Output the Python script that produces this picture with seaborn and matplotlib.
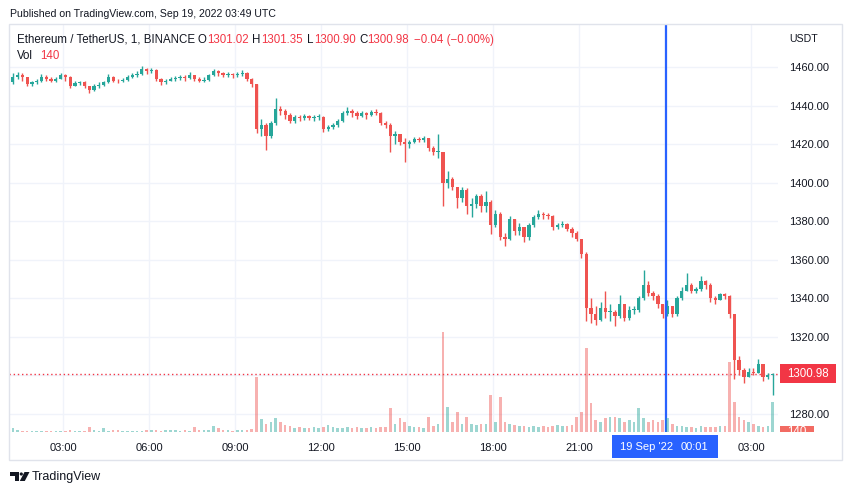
import numpy as np
import pandas as pd
import matplotlib
matplotlib.use('Agg')
import matplotlib.pyplot as plt
import matplotlib.patches as mpatches
import seaborn as sns

# ETH/USDT (Binance), read off the chart as 10-minute bars,
# 18 Sep 2022 01:10 UTC -> 19 Sep 2022 03:40 UTC
first_open = 1452
close = [
    1455, 1456, 1455, 1451, 1452, 1453, 1455, 1454, 1453, 1454, 1456,
    1455, 1450, 1451.5, 1452, 1450, 1448, 1450, 1450.5, 1452, 1455,
    1453, 1452.5, 1453.5, 1455, 1456, 1456.5, 1459, 1458, 1458.5, 1454,
    1452, 1453, 1454, 1454.5, 1455, 1454.5, 1456, 1454, 1453, 1453.5,
    1456, 1458, 1457, 1456, 1456.5, 1456, 1456.5, 1457, 1454, 1451,
    1428, 1430, 1424, 1431, 1438, 1437, 1435, 1432, 1434, 1433.5,
    1434.5, 1433.5, 1434, 1434, 1428, 1429, 1430, 1432, 1436, 1437,
    1436, 1434.5, 1436, 1435, 1436.5, 1436, 1431, 1430, 1424, 1425,
    1421, 1420, 1421, 1422.5, 1422, 1423, 1418, 1416, 1416, 1400,
    1402, 1398, 1392, 1396, 1388, 1389, 1393, 1388, 1390, 1378,
    1384, 1372, 1371, 1381, 1375, 1377, 1372, 1378, 1382, 1384,
    1383, 1382.5, 1377, 1378, 1378.5, 1376, 1374, 1371, 1363, 1335,
    1332, 1329, 1335, 1333, 1333, 1331, 1337, 1330, 1334, 1334,
    1340, 1347, 1343, 1341, 1337, 1332, 1336, 1332, 1340, 1344,
    1347, 1344, 1345, 1349, 1347, 1340, 1339, 1342, 1341, 1332,
    1308, 1303, 1299, 1302, 1301.5, 1306, 1299, 1300, 1300.98]
high = [
    1457, 1457.5, 1457, 1455, 1453, 1454, 1456.5, 1456, 1455, 1455, 1457,
    1456.5, 1455.5, 1453, 1453, 1452.5, 1450, 1451, 1452, 1453, 1456.5,
    1455.5, 1454, 1454.5, 1456, 1457, 1458, 1460.5, 1459.5, 1459.5, 1459,
    1454.5, 1454, 1455, 1455.5, 1456, 1456, 1457.5, 1456, 1455, 1455,
    1456.5, 1459, 1458.5, 1457.5, 1457.5, 1457, 1457.5, 1458.5, 1457.5, 1454.5,
    1451, 1433, 1431, 1432, 1444, 1440, 1438, 1436, 1435, 1435,
    1435.5, 1435, 1435, 1435.5, 1434.5, 1430, 1431, 1433, 1437, 1439.5,
    1438, 1437, 1437, 1436.5, 1437.5, 1438, 1436.5, 1432, 1431, 1427,
    1425, 1423, 1422, 1423.5, 1423.5, 1424, 1423, 1419, 1425, 1416,
    1406, 1403, 1398, 1398, 1397, 1392, 1394, 1394, 1395.5, 1391,
    1386, 1385, 1374, 1382.5, 1381, 1379, 1377, 1379, 1383, 1386,
    1385, 1384.5, 1383, 1379, 1380, 1379, 1377, 1375, 1371, 1364,
    1340, 1336, 1338, 1344, 1337, 1334, 1341.5, 1337, 1336, 1336,
    1341, 1354.5, 1349, 1344, 1342, 1337, 1339, 1336, 1341, 1346,
    1353, 1348, 1346, 1351.5, 1349.5, 1348, 1341, 1343, 1343, 1341.5,
    1332, 1310, 1304, 1304, 1304, 1308.5, 1306, 1301, 1301.5]
low = [
    1451, 1454, 1453, 1450, 1450, 1451, 1452, 1453, 1452, 1452, 1454,
    1453, 1449, 1450, 1450.5, 1449, 1446.5, 1447.5, 1449, 1450, 1451.5,
    1452, 1451.5, 1452, 1453, 1454.5, 1455, 1456, 1456.5, 1457, 1453,
    1450.5, 1451, 1452.5, 1453, 1453.5, 1453, 1454, 1452.5, 1452, 1452,
    1452.5, 1455.5, 1455.5, 1455, 1455, 1454.5, 1455, 1455.5, 1453, 1449.5,
    1426, 1424, 1417, 1423, 1430, 1435, 1433, 1431, 1431, 1432,
    1432.5, 1432.5, 1432, 1432.5, 1426.5, 1427, 1428, 1429, 1431.5, 1435,
    1434, 1433, 1434, 1433, 1434.5, 1435, 1430, 1428.5, 1416, 1420,
    1419.5, 1410.5, 1418, 1420.5, 1421, 1421, 1416.5, 1414.5, 1413, 1388,
    1397, 1396, 1387, 1390, 1384, 1382, 1387, 1385, 1385, 1373.5,
    1377, 1370, 1367, 1370, 1373, 1373, 1369, 1370.5, 1377, 1381,
    1381, 1381, 1375.5, 1376, 1377, 1375, 1372, 1369.5, 1361, 1328,
    1327, 1326, 1328, 1330, 1328, 1325.5, 1330, 1328, 1329, 1332,
    1333, 1339, 1341, 1339, 1335, 1330, 1331, 1330.5, 1331, 1339,
    1344, 1343, 1343, 1344, 1345, 1338, 1337, 1339, 1339.5, 1330,
    1298, 1300, 1296, 1299, 1300, 1301, 1297, 1298, 1290]
# volume, ETH
volume = [
    400, 200, 150, 100, 150, 100, 100, 150, 100, 100, 150,
    150, 200, 150, 100, 150, 500, 200, 150, 400, 150,
    200, 200, 150, 100, 150, 100, 150, 200, 200, 200,
    150, 200, 250, 200, 150, 200, 150, 500, 200, 250,
    250, 600, 400, 200, 200, 150, 200, 200, 250, 300,
    5500, 1300, 800, 1000, 1400, 1000, 700, 600, 400, 500,
    400, 400, 500, 400, 500, 700, 500, 400, 400, 500,
    400, 500, 400, 400, 500, 400, 500, 500, 2400, 800,
    1400, 1000, 600, 500, 500, 400, 1500, 600, 800, 10000,
    2500, 1000, 2000, 800, 1500, 800, 700, 800, 800, 3700,
    1000, 3500, 1000, 800, 700, 600, 600, 500, 600, 500,
    600, 500, 600, 700, 600, 600, 700, 1500, 2000, 8400,
    2900, 1200, 1000, 1400, 1500, 1500, 1400, 1000, 1200, 1000,
    2400, 1400, 1000, 1200, 1000, 1200, 1400, 800, 600, 600,
    500, 500, 400, 600, 500, 500, 500, 600, 600, 7000,
    3000, 1500, 1200, 1000, 800, 600, 500, 600, 3000]

last_ohlc = [1301.02, 1301.35, 1300.90, 1300.98]
last_vol = 140
change = '\u22120.04 (\u22120.00%)'

price_ticks = [1280, 1300, 1320, 1340, 1360, 1380, 1400, 1420, 1440, 1460]
price_labels = ['1280.00', '', '1320.00', '1340.00', '1360.00', '1380.00',
                '1400.00', '1420.00', '1440.00', '1460.00']
hour_ticks = [3, 6, 9, 12, 15, 18, 21, 24, 27]
time_labels = ['03:00', '06:00', '09:00', '12:00', '15:00', '18:00', '21:00', '', '03:00']

assert len(close) == len(high) == len(low) == len(volume) == 160

times = pd.date_range('2022-09-18 01:10', periods=len(close), freq='10min')
df = pd.DataFrame({'time': times, 'close': close, 'high': high, 'low': low, 'volume': volume})
df['open'] = [first_open] + close[:-1]
df['hour'] = (df['time'] - pd.Timestamp('2022-09-18')) / pd.Timedelta('1h') + 5 / 60
df['up'] = df['close'] >= df['open']

UP, DOWN = '#26a69a', '#ef5350'
RED = '#f23645'
DARK = '#131722'

sns.set_theme(style='white')
plt.rcParams['font.family'] = ['Liberation Sans', 'DejaVu Sans']

W, H = 850, 494
def fx(x):
    return x / W
def fy(y):
    return 1 - y / H

fig = plt.figure(figsize=(8.5, 4.94), dpi=100)
fig.patch.set_facecolor('white')
rect = [fx(9), fy(432), fx(778) - fx(9), fy(25) - fy(432)]
ax = fig.add_axes(rect)
ax.set_facecolor('white')
# volume pane shares the time axis
axv = ax.twinx()
axv.set_ylim(0, 40700)
axv.axis('off')

for s in ax.spines.values():
    s.set_visible(False)
ax.set_xlim(1.1165, 27.939)
ax.set_ylim(1270.65, 1481.8)
ax.yaxis.tick_right()
ax.set_yticks(price_ticks)
ax.set_yticklabels(price_labels)
ax.set_xticks(hour_ticks)
ax.set_xticklabels(time_labels)
ax.grid(True, color='#f0f3fa', lw=1)
ax.set_axisbelow(True)
ax.tick_params(axis='y', which='both', left=False, right=False, labelleft=False,
               labelright=True, length=0, pad=8, labelsize=8, labelcolor=DARK)
ax.tick_params(axis='x', length=0, pad=8, labelsize=8, labelcolor=DARK)

# candles
cols = np.where(df['up'], UP, DOWN)
top = np.maximum.reduce([df['high'], df['open'], df['close']])
bot = np.minimum.reduce([df['low'], df['open'], df['close']])
ax.vlines(df['hour'], bot, top, colors=cols, lw=1.0, zorder=3)
body = np.maximum((df['close'] - df['open']).abs(), 0.4)
ax.bar(df['hour'], body, bottom=np.minimum(df['open'], df['close']),
       width=0.115, color=cols, lw=0, zorder=4)

ax.axhline(close[-1], color=RED, ls=(0, (1, 2)), lw=1, zorder=2)
ax.axvline(24 + 1 / 60, color='#2962ff', lw=1.6, zorder=6)

axv.bar(df['hour'], df['volume'], width=0.09, color=cols, alpha=0.45, lw=0)

# price scale labels
axp = fig.add_axes([fx(778), fy(432), fx(843) - fx(778), fy(25) - fy(432)])
axp.set_xlim(778, 843)
axp.set_ylim(1270.65, 1481.8)
axp.axis('off')
axp.add_patch(mpatches.Rectangle((780, close[-1] - 4.7), 56, 9.4, color=RED, lw=0))
axp.text(807.5, close[-1] - 0.4, f'{close[-1]:.2f}', color='white', fontsize=8.3,
         ha='center', va='center')
axp.add_patch(mpatches.Rectangle((780, 1262), 34, 11.8, color='#f26b63', lw=0))
axp.text(797, 1270.9, str(last_vol), color='white', fontsize=8.3,
         ha='center', va='center', clip_on=True)

# frame
fig.add_artist(mpatches.Rectangle((fx(9), fy(460)), fx(842) - fx(9), fy(24) - fy(460),
                                  transform=fig.transFigure, fill=False,
                                  ec='#e0e3eb', lw=1))

# crosshair time label
fig.add_artist(mpatches.Rectangle((fx(612), fy(458)), fx(718) - fx(612), fy(435) - fy(458),
                                  transform=fig.transFigure, color='#2962ff', lw=0, zorder=5))
fig.text(fx(620), fy(447), "19 Sep '22", color='white', fontsize=8, va='center', zorder=6)
fig.text(fx(681), fy(447), '00:01', color='white', fontsize=8, va='center', zorder=6)

# header texts
fig.text(fx(10), fy(14), 'Published on TradingView.com, Sep 19, 2022 03:49 UTC',
         fontsize=7.6, color=DARK, va='center')
fig.text(fx(789), fy(38.5), 'USDT', fontsize=7.6, color=DARK, va='center')

o, h, l, c = last_ohlc
pieces = [('Ethereum / TetherUS, 1, BINANCE', 17, DARK),
          ('O', 198, DARK), (f'{o:.2f}', 207, RED),
          ('H', 252, DARK), (f'{h:.2f}', 261, RED),
          ('L', 307, DARK), (f'{l:.2f}', 314, RED),
          ('C', 359, DARK), (f'{c:.2f}', 367, RED),
          (change, 414, RED)]
for txt, x, col in pieces:
    fig.text(fx(x), fy(40), txt, fontsize=8.3, color=col, va='center')
fig.text(fx(17), fy(56), 'Vol', fontsize=8.3, color=DARK, va='center')
fig.text(fx(40), fy(56), str(last_vol), fontsize=8.3, color=RED, va='center')

# TradingView logo
tf = fig.transFigure
fig.add_artist(mpatches.Polygon([(fx(9.5), fy(472)), (fx(18.5), fy(472)), (fx(18.5), fy(481)),
                                 (fx(14.5), fy(481)), (fx(14.5), fy(475.5)), (fx(9.5), fy(475.5))],
                                closed=True, transform=tf, color=DARK, lw=0))
fig.add_artist(mpatches.Ellipse((fx(21.3), fy(474)), fx(3.2), 3.2 / H, transform=tf,
                                color=DARK, lw=0))
fig.add_artist(mpatches.Polygon([(fx(24.5), fy(472)), (fx(29.5), fy(472)), (fx(24.8), fy(481)),
                                 (fx(19.8), fy(481))],
                                closed=True, transform=tf, color=DARK, lw=0))
fig.text(fx(32), fy(477), 'TradingView', fontsize=9, color=DARK, va='center')

fig.savefig('out.png', dpi=100, facecolor='white')
